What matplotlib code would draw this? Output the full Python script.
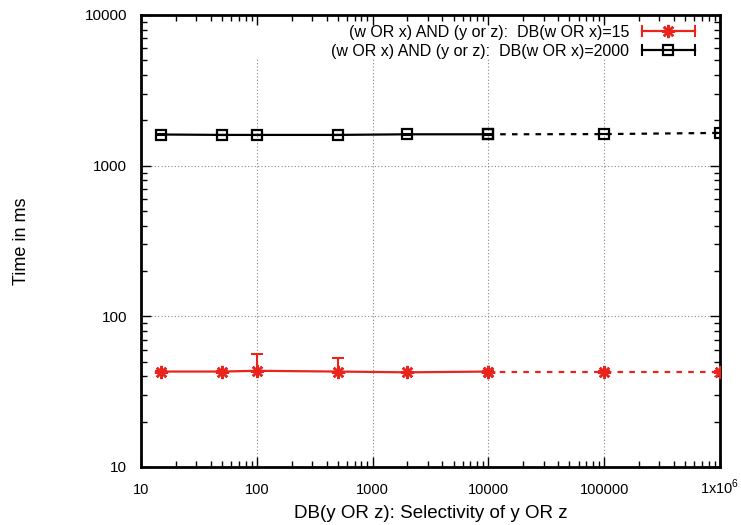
import matplotlib
matplotlib.use("Agg")
import matplotlib.pyplot as plt
from matplotlib.lines import Line2D
from matplotlib.legend_handler import HandlerLine2D, HandlerTuple
from matplotlib.ticker import LogLocator, FixedLocator, FixedFormatter, NullFormatter

plt.rcParams["font.family"] = ["Liberation Sans", "DejaVu Sans"]
plt.rcParams["mathtext.fontset"] = "custom"
plt.rcParams["mathtext.rm"] = "Liberation Sans"

# ── data ─────────────────────────────────────────────────────────
selectivity = [15, 50, 100, 500, 2000, 10000, 100000, 1000000]

time_15 = [43, 43, 43.5, 43, 42.5, 43, 43, 43]
err_15_lo = [0.5, 0.5, 0.5, 0.5, 0.5, 0.5, 0.5, 0.5]
err_15_hi = [0.5, 0.5, 12.5, 9.5, 0.5, 0.5, 0.5, 0.5]

time_2000 = [1610, 1600, 1600, 1600, 1615, 1615, 1620, 1650]
err_2000_lo = [5, 5, 5, 5, 5, 5, 5, 5]
err_2000_hi = [5, 5, 5, 5, 5, 5, 5, 5]

label_15 = "(w OR x) AND (y or z):  DB(w OR x)=15"
label_2000 = "(w OR x) AND (y or z):  DB(w OR x)=2000"

x_ticks = [10, 100, 1000, 10000, 100000, 1000000]
x_ticklabels = ["10", "100", "1000", "10000", "100000", r"1x10$^{6}$"]
y_ticks = [10, 100, 1000, 10000]
y_ticklabels = ["10", "100", "1000", "10000"]

RED = "#e8241c"
BLACK = "#000000"
N_SOLID = 6  # points measured up to 10000 drawn solid, the rest dashed

# ── plotting ─────────────────────────────────────────────────────
fig = plt.figure(figsize=(7.41, 5.25), dpi=100)
ax = fig.add_axes([141 / 741, 1 - 467 / 525, (720 - 141) / 741, (467 - 15) / 525])
ax.set_xscale("log")
ax.set_yscale("log")
ax.set_xlim(10, 1000000)
ax.set_ylim(10, 10000)

# grid (vertical lines stop below the key, like gnuplot's opaque key)
ax.grid(axis="y", which="major", color="#888888", linestyle=(0, (1, 2)), linewidth=0.8)
for xv in x_ticks[1:-1]:
    ax.axvline(xv, ymin=0, ymax=0.905, color="#888888", linestyle=(0, (1, 2)),
               linewidth=0.8, zorder=0.5)

series = [
    (time_15, err_15_lo, err_15_hi, RED, dict(marker=(8, 2, 0), markersize=9.5,
                                              markeredgewidth=1.8)),
    (time_2000, err_2000_lo, err_2000_hi, BLACK, dict(marker="s", markersize=7.5,
                                                      markerfacecolor="none",
                                                      markeredgewidth=1.6)),
]
for ys, lo, hi, col, mk in series:
    ax.errorbar(selectivity, ys, yerr=[lo, hi], fmt="none", ecolor=col,
                elinewidth=1.5, capsize=4, capthick=1.5, zorder=3)
    ax.plot(selectivity[:N_SOLID], ys[:N_SOLID], color=col, linewidth=1.6,
            zorder=3, **mk)
    ax.plot(selectivity[N_SOLID - 1:], ys[N_SOLID - 1:], color=col, linewidth=1.6,
            linestyle=(0, (2.5, 2.8)), zorder=3, **mk)

# ticks
ax.xaxis.set_major_locator(FixedLocator(x_ticks))
ax.xaxis.set_major_formatter(FixedFormatter(x_ticklabels))
ax.yaxis.set_major_locator(FixedLocator(y_ticks))
ax.yaxis.set_major_formatter(FixedFormatter(y_ticklabels))
for axis in (ax.xaxis, ax.yaxis):
    axis.set_minor_locator(LogLocator(base=10, subs=range(2, 10), numticks=20))
    axis.set_minor_formatter(NullFormatter())
ax.tick_params(which="both", direction="in", top=True, right=True, width=1.0)
ax.tick_params(which="major", length=7)
ax.tick_params(which="minor", length=4)
ax.tick_params(axis="x", which="major", pad=19.5, labelsize=10.5)
ax.tick_params(axis="y", which="major", pad=10, labelsize=11)
# put x tick labels on a common baseline so the superscript does not push 1x10^6 down
for lab in ax.get_xticklabels():
    lab.set_verticalalignment("baseline")
for sp in ax.spines.values():
    sp.set_linewidth(2)

ax.set_xlabel("DB(y OR z): Selectivity of y OR z", fontsize=13.5, labelpad=6)
ax.set_ylabel("Time in ms", fontsize=13)
ax.yaxis.set_label_coords(-0.191, 0.5)

# legend: gnuplot-style sample with end caps on the right of the text
handles, hmap = [], {}
for col, mk in ((RED, series[0][4]), (BLACK, series[1][4])):
    caps = Line2D([], [], color=col, linewidth=1.6, marker="|", markersize=8,
                  markeredgewidth=1.5)
    point = Line2D([], [], color=col, linestyle="none", **mk)
    hmap[caps] = HandlerLine2D(numpoints=2, marker_pad=0)
    hmap[point] = HandlerLine2D(numpoints=1)
    handles.append((caps, point))
hmap[tuple] = HandlerTuple(ndivide=1, pad=0)
ax.legend(handles, [label_15, label_2000], handler_map=hmap, loc="upper right",
          bbox_to_anchor=(0.973, 1.0), frameon=False, markerfirst=False,
          fontsize=11.5, handlelength=3.3, handletextpad=0.8, labelspacing=0.25,
          borderaxespad=0.2)

fig.savefig("out.png", dpi=100)
